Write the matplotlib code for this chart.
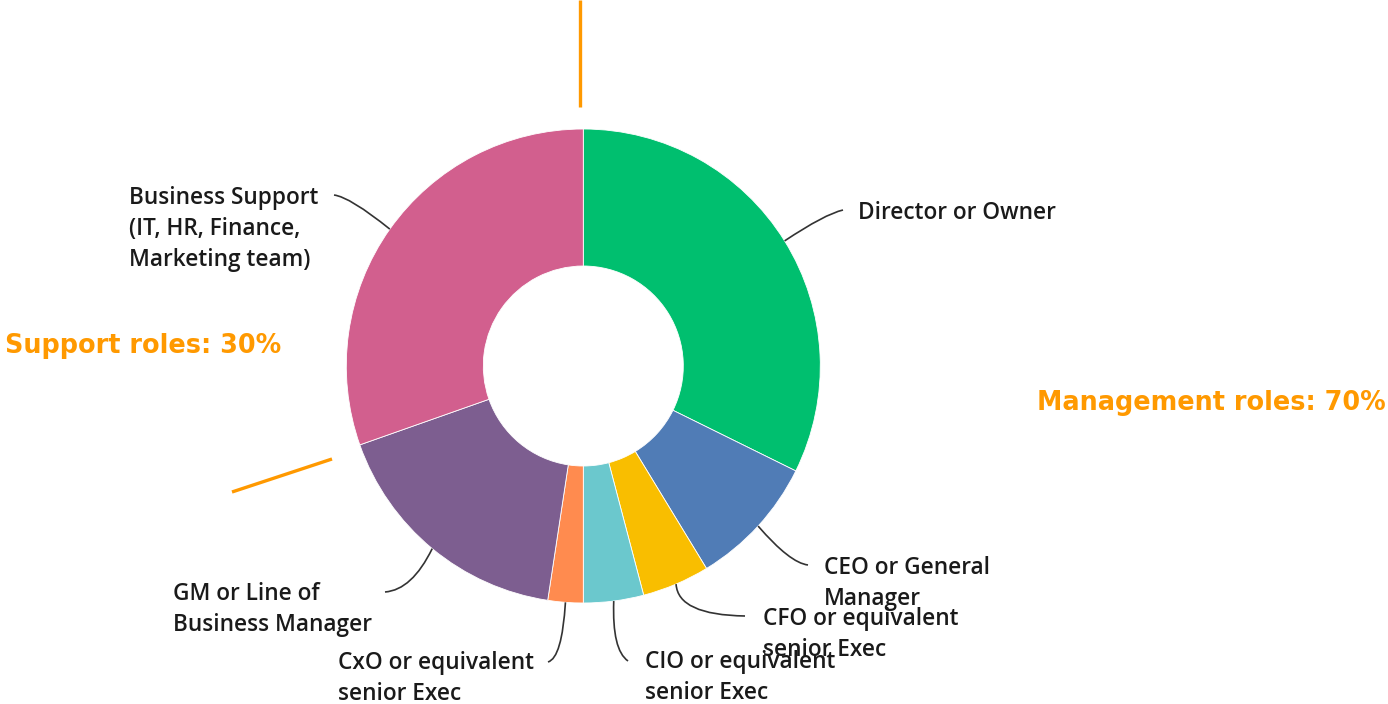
import matplotlib
matplotlib.use("Agg")
import matplotlib.pyplot as plt
import numpy as np
from matplotlib.path import Path
from matplotlib.patches import PathPatch

# ---- data ----
categories = ["Director or Owner", "CEO or General\nManager", "CFO or equivalent\nsenior Exec",
              "CIO or equivalent\nsenior Exec", "CxO or equivalent\nsenior Exec",
              "GM or Line of\nBusiness Manager",
              "Business Support\n(IT, HR, Finance,\nMarketing team)"]
values = [32.3, 9.0, 4.6, 4.1, 2.4, 17.2, 30.4]
colors = ["#00BF6F", "#507CB6", "#F9BE00", "#6BC8CD", "#FF8B4F", "#7D5E90", "#D25F8E"]
group_labels = ["Support roles: 30%", "Management roles: 70%"]

# ---- layout (pixel coords, y downward) ----
W, H = 1388, 704
cx, cy = 583.3, 366
R, r_in = 237, 100
label_pos = [(858, 213), (824, 568), (763, 619), (645, 662), (338, 663), (173, 594), (129, 198)]
leader_end = [(843, 210), (808, 565), (745, 616), (628, 661), (548, 662), (385, 592), (334, 195)]
leader_ctrl = [(825, 214), (790, 563), (678, 615), (612, 650), (562, 658), (412, 590), (350, 197)]
line_step = 31

fig = plt.figure(figsize=(W / 100, H / 100), dpi=100)
ax = fig.add_axes([0, 0, 1, 1])

def P(x, y):
    return (x, H - y)

wedges, _ = ax.pie(values, colors=colors, startangle=90, counterclock=False,
                   center=P(cx, cy), radius=R,
                   wedgeprops=dict(width=R - r_in, edgecolor="white", linewidth=0.6))
ax.set_xlim(0, W)
ax.set_ylim(0, H)
ax.set_aspect("equal")
ax.axis("off")

label_font = dict(family=["Open Sans", "DejaVu Sans"], fontweight="semibold", fontsize=16.3, color="#1a1a1a")

for w, lab, lp, le, lc in zip(wedges, categories, label_pos, leader_end, leader_ctrl):
    mid = np.deg2rad((w.theta1 + w.theta2) / 2)
    sx, sy = w.center[0] + R * np.cos(mid), w.center[1] + R * np.sin(mid)
    path = Path([(sx, sy), P(*lc), P(*le)], [Path.MOVETO, Path.CURVE3, Path.CURVE3])
    ax.add_patch(PathPatch(path, fill=False, edgecolor="#333333", lw=1.2))
    for i, line in enumerate(lab.split("\n")):
        ax.text(*P(lp[0], lp[1] + i * line_step), line, ha="left", va="center", **label_font)

orange = "#FF9900"
grp_font = dict(family=["DejaVu Sans"], fontweight="bold", fontsize=18.4, color=orange)
ax.text(*P(5, 346), group_labels[0], ha="left", va="center", **grp_font)
ax.text(*P(1037, 403), group_labels[1], ha="left", va="center", **grp_font)

ax.plot([P(580, 0)[0], P(580, 107)[0]], [P(580, 0)[1], P(580, 107)[1]], color=orange, lw=2.4, solid_capstyle="butt")
ax.plot([P(232, 492)[0], P(332, 459)[0]], [P(232, 492)[1], P(332, 459)[1]], color=orange, lw=2.4, solid_capstyle="butt")

fig.savefig("out.png", dpi=100, facecolor="white")
